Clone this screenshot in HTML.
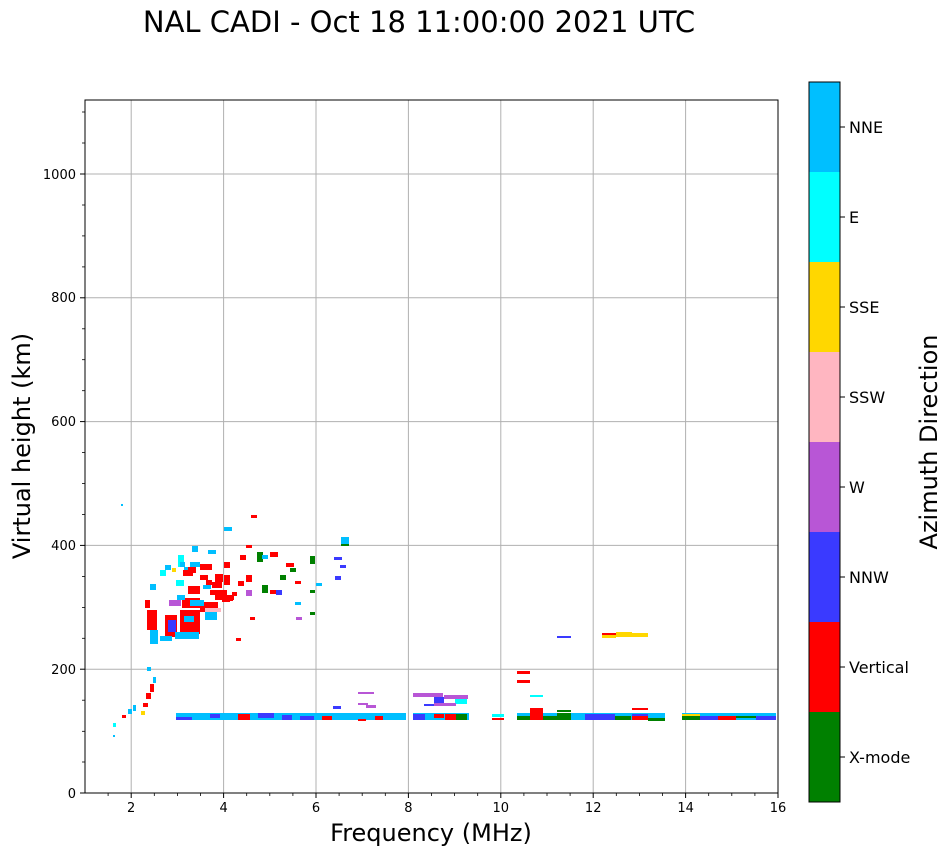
<!DOCTYPE html>
<html><head><meta charset="utf-8"><style>
body{margin:0;background:#fff;}
svg{display:block;font-family:"DejaVu Sans","Liberation Sans",sans-serif;}
</style></head><body>
<svg width="951" height="856" xmlns="http://www.w3.org/2000/svg">
<rect width="951" height="856" fill="#fff"/>
<text x="419" y="32" font-size="29" text-anchor="middle">NAL CADI - Oct 18 11:00:00 2021 UTC</text>
<!-- grid -->
<g stroke="#b0b0b0" stroke-width="1">
<line x1="131.2" y1="100" x2="131.2" y2="793"/><line x1="223.6" y1="100" x2="223.6" y2="793"/>
<line x1="316" y1="100" x2="316" y2="793"/><line x1="408.4" y1="100" x2="408.4" y2="793"/>
<line x1="500.8" y1="100" x2="500.8" y2="793"/><line x1="593.2" y1="100" x2="593.2" y2="793"/>
<line x1="685.6" y1="100" x2="685.6" y2="793"/>
<line x1="85" y1="669.2" x2="778" y2="669.2"/><line x1="85" y1="545.4" x2="778" y2="545.4"/>
<line x1="85" y1="421.6" x2="778" y2="421.6"/><line x1="85" y1="297.8" x2="778" y2="297.8"/>
<line x1="85" y1="174" x2="778" y2="174"/>
</g>
<!-- data -->
<g>
<rect x="176" y="713" width="230" height="7" fill="#00bfff"/>
<rect x="413" y="713" width="56" height="7" fill="#00bfff"/>
<rect x="492" y="714" width="12" height="3" fill="#00ffff"/>
<rect x="492" y="718" width="12" height="2" fill="#ff0000"/>
<rect x="517" y="713" width="148" height="7" fill="#00bfff"/>
<rect x="682" y="713" width="94" height="7" fill="#00bfff"/>
<rect x="176" y="717" width="16" height="3" fill="#3a3aff"/>
<rect x="210" y="714" width="10" height="4" fill="#3a3aff"/>
<rect x="238" y="714" width="12" height="6" fill="#ff0000"/>
<rect x="258" y="713" width="16" height="5" fill="#3a3aff"/>
<rect x="282" y="715" width="10" height="5" fill="#3a3aff"/>
<rect x="300" y="716" width="14" height="4" fill="#3a3aff"/>
<rect x="322" y="716" width="10" height="4" fill="#ff0000"/>
<rect x="358" y="719" width="8" height="2" fill="#ff0000"/>
<rect x="375" y="716" width="8" height="4" fill="#ff0000"/>
<rect x="413" y="714" width="12" height="6" fill="#3a3aff"/>
<rect x="434" y="714" width="10" height="4" fill="#ff0000"/>
<rect x="445" y="714" width="12" height="6" fill="#ff0000"/>
<rect x="456" y="714" width="11" height="6" fill="#008000"/>
<rect x="517" y="716" width="13" height="4" fill="#008000"/>
<rect x="530" y="708" width="13" height="12" fill="#ff0000"/>
<rect x="543" y="716" width="14" height="4" fill="#008000"/>
<rect x="557" y="713" width="14" height="7" fill="#008000"/>
<rect x="585" y="714" width="30" height="6" fill="#3a3aff"/>
<rect x="615" y="716" width="16" height="4" fill="#008000"/>
<rect x="632" y="716" width="16" height="4" fill="#ff0000"/>
<rect x="632" y="714" width="16" height="2" fill="#3a3aff"/>
<rect x="648" y="718" width="17" height="3" fill="#008000"/>
<rect x="682" y="714" width="18" height="6" fill="#008000"/>
<rect x="682" y="714" width="18" height="2" fill="#ffd700"/>
<rect x="700" y="716" width="18" height="4" fill="#3a3aff"/>
<rect x="718" y="716" width="18" height="4" fill="#ff0000"/>
<rect x="736" y="716" width="20" height="2" fill="#008000"/>
<rect x="756" y="716" width="20" height="4" fill="#3a3aff"/>
<rect x="413" y="693" width="30" height="4" fill="#b856d6"/>
<rect x="434" y="697" width="10" height="6" fill="#3a3aff"/>
<rect x="444" y="695" width="24" height="4" fill="#b856d6"/>
<rect x="455" y="699" width="12" height="5" fill="#00ffff"/>
<rect x="434" y="703" width="22" height="3" fill="#b856d6"/>
<rect x="424" y="704" width="10" height="2" fill="#3a3aff"/>
<rect x="358" y="692" width="16" height="2" fill="#b856d6"/>
<rect x="358" y="703" width="10" height="2" fill="#b856d6"/>
<rect x="333" y="706" width="8" height="3" fill="#3a3aff"/>
<rect x="366" y="705" width="10" height="3" fill="#b856d6"/>
<rect x="517" y="671" width="13" height="3" fill="#ff0000"/>
<rect x="517" y="680" width="13" height="3" fill="#ff0000"/>
<rect x="530" y="695" width="13" height="2" fill="#00ffff"/>
<rect x="557" y="710" width="14" height="2" fill="#008000"/>
<rect x="632" y="708" width="16" height="2" fill="#ff0000"/>
<rect x="557" y="636" width="14" height="2" fill="#3a3aff"/>
<rect x="602" y="633" width="14" height="5" fill="#ffd700"/>
<rect x="602" y="633" width="14" height="2" fill="#ff0000"/>
<rect x="616" y="632" width="16" height="5" fill="#ffd700"/>
<rect x="632" y="633" width="16" height="4" fill="#ffd700"/>
<rect x="113" y="723" width="3" height="4" fill="#00ffff"/>
<rect x="113" y="735" width="2" height="2" fill="#00bfff"/>
<rect x="122" y="715" width="4" height="3" fill="#ff0000"/>
<rect x="128" y="709" width="4" height="5" fill="#00bfff"/>
<rect x="133" y="705" width="3" height="6" fill="#00bfff"/>
<rect x="141" y="711" width="4" height="4" fill="#ffd700"/>
<rect x="143" y="703" width="5" height="4" fill="#ff0000"/>
<rect x="146" y="693" width="5" height="6" fill="#ff0000"/>
<rect x="150" y="684" width="4" height="8" fill="#ff0000"/>
<rect x="153" y="677" width="3" height="6" fill="#00bfff"/>
<rect x="147" y="667" width="4" height="4" fill="#00bfff"/>
<rect x="121" y="504" width="2" height="2" fill="#00bfff"/>
<rect x="147" y="610" width="10" height="20" fill="#ff0000"/>
<rect x="150" y="630" width="8" height="14" fill="#00bfff"/>
<rect x="165" y="615" width="12" height="22" fill="#ff0000"/>
<rect x="168" y="620" width="8" height="12" fill="#3a3aff"/>
<rect x="180" y="610" width="20" height="24" fill="#ff0000"/>
<rect x="184" y="616" width="10" height="6" fill="#00bfff"/>
<rect x="160" y="636" width="12" height="5" fill="#00bfff"/>
<rect x="175" y="632" width="24" height="7" fill="#00bfff"/>
<rect x="182" y="598" width="18" height="10" fill="#ff0000"/>
<rect x="200" y="602" width="18" height="10" fill="#ff0000"/>
<rect x="205" y="612" width="12" height="8" fill="#00bfff"/>
<rect x="215" y="590" width="12" height="10" fill="#ff0000"/>
<rect x="212" y="582" width="10" height="6" fill="#ff0000"/>
<rect x="222" y="596" width="8" height="6" fill="#ff0000"/>
<rect x="205" y="608" width="16" height="4" fill="#ffb6c1"/>
<rect x="190" y="600" width="14" height="6" fill="#00bfff"/>
<rect x="169" y="600" width="12" height="6" fill="#b856d6"/>
<rect x="200" y="575" width="8" height="5" fill="#ff0000"/>
<rect x="176" y="580" width="8" height="6" fill="#00ffff"/>
<rect x="183" y="570" width="10" height="6" fill="#ff0000"/>
<rect x="177" y="595" width="8" height="5" fill="#00bfff"/>
<rect x="150" y="584" width="6" height="6" fill="#00bfff"/>
<rect x="145" y="600" width="5" height="8" fill="#ff0000"/>
<rect x="188" y="586" width="12" height="8" fill="#ff0000"/>
<rect x="178" y="555" width="6" height="12" fill="#00ffff"/>
<rect x="190" y="562" width="10" height="5" fill="#00bfff"/>
<rect x="160" y="570" width="6" height="6" fill="#00ffff"/>
<rect x="165" y="565" width="6" height="5" fill="#00bfff"/>
<rect x="192" y="546" width="6" height="6" fill="#00bfff"/>
<rect x="200" y="564" width="12" height="6" fill="#ff0000"/>
<rect x="226" y="595" width="8" height="5" fill="#ff0000"/>
<rect x="184" y="567" width="12" height="6" fill="#ff0000"/>
<rect x="184" y="567" width="4" height="3" fill="#00bfff"/>
<rect x="232" y="592" width="5" height="4" fill="#ff0000"/>
<rect x="208" y="550" width="8" height="4" fill="#00bfff"/>
<rect x="206" y="580" width="6" height="5" fill="#ff0000"/>
<rect x="210" y="590" width="10" height="5" fill="#ff0000"/>
<rect x="215" y="574" width="8" height="8" fill="#ff0000"/>
<rect x="223" y="595" width="10" height="6" fill="#ff0000"/>
<rect x="180" y="562" width="5" height="5" fill="#00bfff"/>
<rect x="172" y="568" width="4" height="4" fill="#ffd700"/>
<rect x="203" y="585" width="8" height="4" fill="#00bfff"/>
<rect x="224" y="575" width="6" height="10" fill="#ff0000"/>
<rect x="224" y="527" width="8" height="4" fill="#00bfff"/>
<rect x="224" y="562" width="6" height="6" fill="#ff0000"/>
<rect x="238" y="581" width="6" height="5" fill="#ff0000"/>
<rect x="240" y="555" width="6" height="5" fill="#ff0000"/>
<rect x="246" y="590" width="6" height="6" fill="#b856d6"/>
<rect x="246" y="575" width="6" height="7" fill="#ff0000"/>
<rect x="246" y="545" width="6" height="3" fill="#ff0000"/>
<rect x="251" y="515" width="6" height="3" fill="#ff0000"/>
<rect x="257" y="552" width="6" height="10" fill="#008000"/>
<rect x="262" y="585" width="6" height="8" fill="#008000"/>
<rect x="262" y="555" width="6" height="4" fill="#00bfff"/>
<rect x="270" y="552" width="8" height="5" fill="#ff0000"/>
<rect x="270" y="590" width="6" height="4" fill="#ff0000"/>
<rect x="276" y="590" width="6" height="5" fill="#3a3aff"/>
<rect x="280" y="575" width="6" height="5" fill="#008000"/>
<rect x="286" y="563" width="8" height="4" fill="#ff0000"/>
<rect x="290" y="568" width="6" height="4" fill="#008000"/>
<rect x="295" y="602" width="6" height="3" fill="#00bfff"/>
<rect x="296" y="617" width="6" height="3" fill="#b856d6"/>
<rect x="310" y="556" width="5" height="8" fill="#008000"/>
<rect x="310" y="590" width="5" height="3" fill="#008000"/>
<rect x="310" y="612" width="5" height="3" fill="#008000"/>
<rect x="316" y="583" width="6" height="3" fill="#00bfff"/>
<rect x="334" y="557" width="8" height="3" fill="#3a3aff"/>
<rect x="335" y="576" width="6" height="4" fill="#3a3aff"/>
<rect x="341" y="537" width="8" height="7" fill="#00bfff"/>
<rect x="341" y="544" width="8" height="2" fill="#008000"/>
<rect x="340" y="565" width="6" height="3" fill="#3a3aff"/>
<rect x="295" y="581" width="6" height="3" fill="#ff0000"/>
<rect x="236" y="638" width="5" height="3" fill="#ff0000"/>
<rect x="250" y="617" width="5" height="3" fill="#ff0000"/>
</g>
<rect x="85" y="100" width="693" height="693" fill="none" stroke="#000" stroke-width="1"/>
<g stroke="#000" stroke-width="1">
<line x1="131.2" y1="793" x2="131.2" y2="798"/><line x1="223.6" y1="793" x2="223.6" y2="798"/>
<line x1="316" y1="793" x2="316" y2="798"/><line x1="408.4" y1="793" x2="408.4" y2="798"/>
<line x1="500.8" y1="793" x2="500.8" y2="798"/><line x1="593.2" y1="793" x2="593.2" y2="798"/>
<line x1="685.6" y1="793" x2="685.6" y2="798"/><line x1="778" y1="793" x2="778" y2="798"/>
<line x1="85" y1="793" x2="80" y2="793"/><line x1="85" y1="669.2" x2="80" y2="669.2"/>
<line x1="85" y1="545.4" x2="80" y2="545.4"/><line x1="85" y1="421.6" x2="80" y2="421.6"/>
<line x1="85" y1="297.8" x2="80" y2="297.8"/><line x1="85" y1="174" x2="80" y2="174"/>
</g>
<g stroke="#000" stroke-width="0.8">
<line x1="108.1" y1="793" x2="108.1" y2="796"/><line x1="154.3" y1="793" x2="154.3" y2="796"/>
<line x1="177.4" y1="793" x2="177.4" y2="796"/><line x1="200.5" y1="793" x2="200.5" y2="796"/>
<line x1="246.7" y1="793" x2="246.7" y2="796"/><line x1="269.8" y1="793" x2="269.8" y2="796"/>
<line x1="292.9" y1="793" x2="292.9" y2="796"/><line x1="339.1" y1="793" x2="339.1" y2="796"/>
<line x1="362.2" y1="793" x2="362.2" y2="796"/><line x1="385.3" y1="793" x2="385.3" y2="796"/>
<line x1="431.5" y1="793" x2="431.5" y2="796"/><line x1="454.6" y1="793" x2="454.6" y2="796"/>
<line x1="477.7" y1="793" x2="477.7" y2="796"/><line x1="523.9" y1="793" x2="523.9" y2="796"/>
<line x1="547" y1="793" x2="547" y2="796"/><line x1="570.1" y1="793" x2="570.1" y2="796"/>
<line x1="616.3" y1="793" x2="616.3" y2="796"/><line x1="639.4" y1="793" x2="639.4" y2="796"/>
<line x1="662.5" y1="793" x2="662.5" y2="796"/><line x1="708.7" y1="793" x2="708.7" y2="796"/>
<line x1="731.8" y1="793" x2="731.8" y2="796"/><line x1="754.9" y1="793" x2="754.9" y2="796"/>
<line x1="85" y1="762" x2="82" y2="762"/><line x1="85" y1="731.3" x2="82" y2="731.3"/>
<line x1="85" y1="700.2" x2="82" y2="700.2"/><line x1="85" y1="638.3" x2="82" y2="638.3"/>
<line x1="85" y1="607.4" x2="82" y2="607.4"/><line x1="85" y1="576.4" x2="82" y2="576.4"/>
<line x1="85" y1="514.5" x2="82" y2="514.5"/><line x1="85" y1="483.5" x2="82" y2="483.5"/>
<line x1="85" y1="452.6" x2="82" y2="452.6"/><line x1="85" y1="390.7" x2="82" y2="390.7"/>
<line x1="85" y1="359.7" x2="82" y2="359.7"/><line x1="85" y1="328.8" x2="82" y2="328.8"/>
<line x1="85" y1="266.9" x2="82" y2="266.9"/><line x1="85" y1="235.9" x2="82" y2="235.9"/>
<line x1="85" y1="205" x2="82" y2="205"/><line x1="85" y1="143" x2="82" y2="143"/>
<line x1="85" y1="112" x2="82" y2="112"/>
</g>
<g font-size="13" text-anchor="middle">
<text x="131.2" y="812">2</text><text x="223.6" y="812">4</text><text x="316" y="812">6</text>
<text x="408.4" y="812">8</text><text x="500.8" y="812">10</text><text x="593.2" y="812">12</text>
<text x="685.6" y="812">14</text><text x="778" y="812">16</text>
</g>
<g font-size="13" text-anchor="end">
<text x="76" y="798">0</text><text x="76" y="674">200</text><text x="76" y="550">400</text>
<text x="76" y="426">600</text><text x="76" y="302">800</text><text x="76" y="179">1000</text>
</g>
<text x="431" y="841" font-size="24" text-anchor="middle">Frequency (MHz)</text>
<text transform="translate(30,446) rotate(-90)" font-size="24" text-anchor="middle">Virtual height (km)</text>
<rect x="809" y="82" width="31" height="90" fill="#00bfff"/>
<rect x="809" y="172" width="31" height="90" fill="#00ffff"/>
<rect x="809" y="262" width="31" height="90" fill="#ffd700"/>
<rect x="809" y="352" width="31" height="90" fill="#ffb6c1"/>
<rect x="809" y="442" width="31" height="90" fill="#b856d6"/>
<rect x="809" y="532" width="31" height="90" fill="#3a3aff"/>
<rect x="809" y="622" width="31" height="90" fill="#ff0000"/>
<rect x="809" y="712" width="31" height="90" fill="#008000"/>
<rect x="809" y="82" width="31" height="720" fill="none" stroke="#000"/>
<g stroke="#000"><line x1="840" y1="127" x2="845" y2="127"/><line x1="840" y1="217" x2="845" y2="217"/>
<line x1="840" y1="307" x2="845" y2="307"/><line x1="840" y1="397" x2="845" y2="397"/>
<line x1="840" y1="487" x2="845" y2="487"/><line x1="840" y1="577" x2="845" y2="577"/>
<line x1="840" y1="667" x2="845" y2="667"/><line x1="840" y1="757" x2="845" y2="757"/></g>
<g font-size="16">
<text x="849" y="133">NNE</text><text x="849" y="223">E</text><text x="849" y="313">SSE</text>
<text x="849" y="403">SSW</text><text x="849" y="493">W</text><text x="849" y="583">NNW</text>
<text x="849" y="673">Vertical</text><text x="849" y="763">X-mode</text>
</g>
<text transform="translate(937,442) rotate(-90)" font-size="24" text-anchor="middle">Azimuth Direction</text>
</svg>
</body></html>
